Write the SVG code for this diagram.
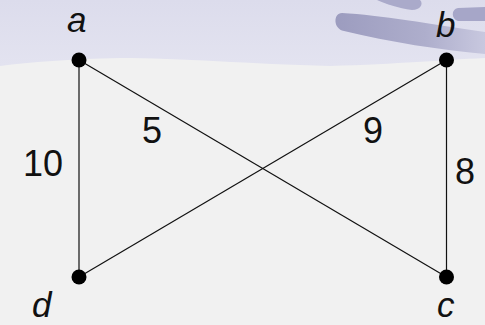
<svg xmlns="http://www.w3.org/2000/svg" width="485" height="325" viewBox="0 0 485 325">
<defs>
<linearGradient id="stroke1" x1="0" y1="0" x2="1" y2="0">
<stop offset="0" stop-color="#9c9cbf"/>
<stop offset="0.6" stop-color="#aeaecc"/>
<stop offset="1" stop-color="#c8c8df"/>
</linearGradient>
<linearGradient id="bgband" x1="0" y1="0" x2="0" y2="1">
<stop offset="0" stop-color="#dcdcec"/>
<stop offset="1" stop-color="#e3e3f0"/>
</linearGradient>
<style>
.edge{stroke:#111;stroke-width:1.2;fill:none}
.node{fill:#000}
.lbl{font-family:"Liberation Sans",Arial,sans-serif;font-size:35px;font-style:italic;fill:#111}
.w{font-family:"Liberation Sans",Arial,sans-serif;font-size:36px;fill:#111}
</style>
</defs>
<rect x="0" y="0" width="485" height="325" fill="#f1f1f1"/>
<path d="M0,0 H485 V58 C440,60 400,64 330,66 C250,64 180,58 120,58 C70,59 30,62 0,66 Z" fill="url(#bgband)"/>
<path d="M377,0 L420,0 C424,4 420,10 412,10 C398,8 386,4 377,0 Z" fill="#aaaaca"/>
<path d="M342,13 C380,15 430,24 485,32 L485,54 C440,50 390,42 344,31 C333,29 333,13 342,13 Z" fill="url(#stroke1)"/>
<path d="M458,8 L485,7 L485,21 L458,21 C451,19 451,9 458,8 Z" fill="#a6a6c8"/>
<g id="connectors">
<line class="edge" x1="79" y1="60" x2="79" y2="277"/>
<line class="edge" x1="446.5" y1="60" x2="446.5" y2="277"/>
<line class="edge" x1="79" y1="60" x2="446.5" y2="277"/>
<line class="edge" x1="446.5" y1="60" x2="79" y2="277"/>
<text class="w" x="23" y="176">10</text>
<text class="w" x="142" y="143">5</text>
<text class="w" x="363" y="143">9</text>
<text class="w" x="455" y="184">8</text>
</g>
<g id="node-a"><circle class="node" cx="79" cy="60" r="7.5"/><text class="lbl" x="67" y="32">a</text></g>
<g id="node-b"><circle class="node" cx="446.5" cy="60" r="7.5"/><text class="lbl" x="436" y="37">b</text></g>
<g id="node-c"><circle class="node" cx="446.5" cy="277" r="7.5"/><text class="lbl" x="437" y="317">c</text></g>
<g id="node-d"><circle class="node" cx="79" cy="277" r="7.5"/><text class="lbl" x="32" y="317">d</text></g>
</svg>
